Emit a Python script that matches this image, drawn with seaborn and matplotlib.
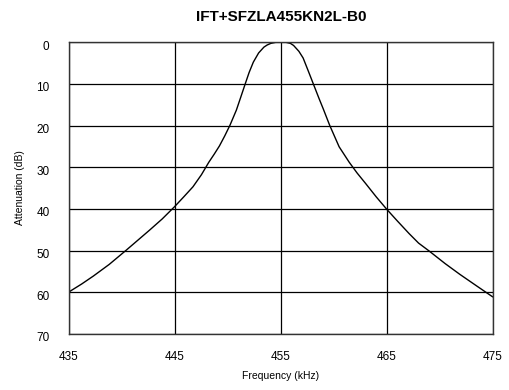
import matplotlib
matplotlib.use("Agg")
import matplotlib.pyplot as plt
import matplotlib.transforms as mtransforms
import seaborn as sns
import pandas as pd

# values
freq_khz = [435, 436.2, 437.3, 438.8, 440.4, 441.5, 442.6, 443.8, 444.95,
            445.8, 446.7, 447.5, 448.2, 448.7, 449.2, 449.7, 450.2, 450.8,
            451.2, 451.65, 452.0, 452.4, 452.9, 453.4, 453.7, 454.05, 454.5,
            455, 455.5, 455.9, 456.2, 456.7, 457.1, 457.6, 458.2, 458.6,
            459.0, 459.6, 460.5, 461.45, 462.2, 463.0, 464.0, 465, 466.0,
            467.1, 468.0, 469.0, 470.5, 471.9, 473.5, 475]
atten_db = [59.9, 58.0, 56.1, 53.3, 49.9, 47.5, 45.1, 42.4, 39.5,
            37.2, 34.7, 31.8, 28.8, 26.9, 24.9, 22.5, 19.9, 16.3,
            13.3, 9.9, 7.3, 4.8, 2.6, 1.2, 0.7, 0.3, 0.05,
            0, 0.05, 0.3, 0.8, 2.2, 3.8, 7.0, 10.9, 13.5,
            16.0, 19.9, 25.1, 28.8, 31.4, 33.9, 37.1, 40.1, 42.9,
            45.9, 48.2, 50.1, 53.1, 55.7, 58.5, 61.1]

x_ticks = [435, 445, 455, 465, 475]
y_ticks = [0, 10, 20, 30, 40, 50, 60, 70]

df = pd.DataFrame({"freq": freq_khz, "atten": atten_db})

sns.set_style("white")
plt.rcParams['font.family'] = ['Liberation Sans', 'DejaVu Sans']
plt.rcParams['text.color'] = 'black'
plt.rcParams['axes.labelcolor'] = 'black'

fig = plt.figure(figsize=(5.09, 3.90), dpi=100)
ax = fig.add_axes([0.1356, 0.1436, 0.968 - 0.1356, 0.892 - 0.1436])

sns.lineplot(data=df, x="freq", y="atten", ax=ax, color="black",
             linewidth=1.0, sort=False)

ax.set_xlim(435, 475)
ax.set_ylim(70, 0)
ax.set_xticks(x_ticks)
ax.set_yticks(y_ticks)
ax.grid(True, color="black", linewidth=0.9)
ax.set_axisbelow(True)
for s in ax.spines.values():
    s.set_color("#333333")
    s.set_linewidth(1.0)

ax.tick_params(axis="both", length=0, labelsize=8.5, colors="black")
ax.tick_params(axis="x", pad=12)
ax.tick_params(axis="y", pad=14)
shift = mtransforms.ScaledTranslation(0, -3 / 100, fig.dpi_scale_trans)
for lbl in ax.get_yticklabels():
    lbl.set_transform(lbl.get_transform() + shift)

ax.set_xlabel("Frequency (kHz)", fontsize=7.5, labelpad=6)
ax.set_ylabel("Attenuation (dB)", fontsize=7.5, labelpad=8)
ax.set_title("IFT+SFZLA455KN2L-B0", fontsize=11, fontweight="bold", pad=15)

fig.savefig("out.png", dpi=100)
